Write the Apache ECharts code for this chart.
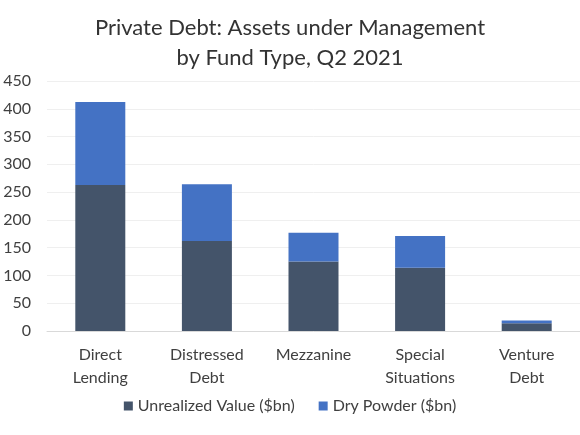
<!DOCTYPE html>
<html>
<head>
<meta charset="utf-8">
<style>
html, body { margin: 0; padding: 0; background: #fff; }
#chart { width: 580px; height: 435px; }
</style>
</head>
<body>
<div id="chart"></div>
<script src="https://cdn.jsdelivr.net/npm/echarts@6/dist/echarts.min.js"></script>
<script>
var categories = ['Direct\nLending', 'Distressed\nDebt', 'Mezzanine', 'Special\nSituations', 'Venture\nDebt'];
var unrealized = [263, 162, 125, 114, 14];
var dryPowder = [149, 102, 52, 57, 5];

var font = 'Lato, "Open Sans", sans-serif';
var myChart = echarts.init(document.getElementById('chart'));
var option = {
	animation: false,
	title: {
		text: 'Private Debt: Assets under Management\nby Fund Type, Q2 2021',
		left: 'center',
		top: 8,
		textStyle: { fontFamily: font, fontSize: 22, fontWeight: 'normal', color: '#333', lineHeight: 30 }
	},
	legend: {
		bottom: 16,
		left: 'center',
		itemWidth: 9,
		itemHeight: 9,
		itemGap: 24,
		itemStyle: { borderWidth: 0 },
		icon: 'rect',
		textStyle: { fontFamily: font, fontSize: 16, color: '#404040' },
		data: ['Unrealized Value ($bn)', 'Dry Powder ($bn)']
	},
	grid: { left: 47, top: 81, width: 551, height: 250 },
	xAxis: {
		type: 'category',
		data: categories,
		axisTick: { show: false },
		axisLine: { lineStyle: { color: '#d9d9d9' } },
		axisLabel: { fontFamily: font, fontSize: 16, color: '#404040', lineHeight: 23, margin: 12, interval: 0 }
	},
	yAxis: {
		type: 'value',
		min: 0,
		max: 450,
		interval: 50,
		axisLabel: { fontFamily: font, fontSize: 16, color: '#404040', margin: 16 },
		splitLine: { lineStyle: { color: '#efefef' } }
	},
	series: [{
		name: 'Unrealized Value ($bn)',
		type: 'bar',
		stack: 'aum',
		barWidth: 50,
		itemStyle: { color: '#44546A' },
		data: unrealized
	}, {
		name: 'Dry Powder ($bn)',
		type: 'bar',
		stack: 'aum',
		barWidth: 50,
		itemStyle: { color: '#4472C4' },
		data: dryPowder
	}]
};
myChart.setOption(option);
</script>
</body>
</html>
